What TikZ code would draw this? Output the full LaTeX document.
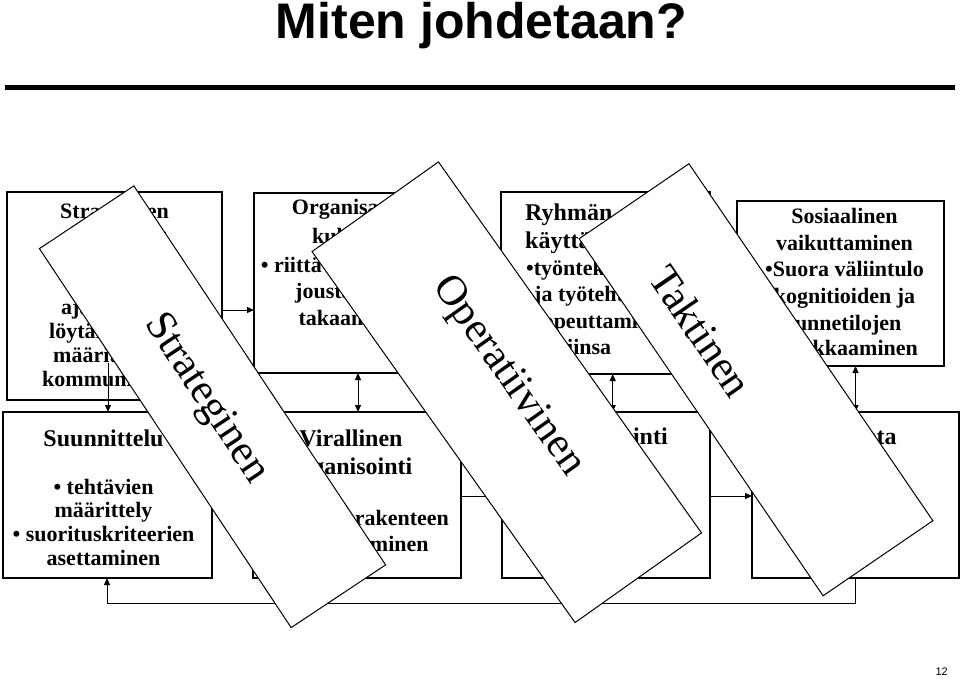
\documentclass[tikz,border=0pt]{standalone}
\usepackage{fontspec}
\setmainfont{Liberation Serif}
\newfontfamily\titlefont{Liberation Sans}
\usetikzlibrary{arrows.meta}
\begin{document}
\begin{tikzpicture}[x=1pt,y=-1pt,
 box/.style={draw, line width=1.1pt, inner sep=0pt, outer sep=0pt, anchor=north west},
 bt/.style={font=\bfseries\fontsize{22}{26}\selectfont, inner sep=0pt},
 btl/.style={font=\bfseries\fontsize{24}{28}\selectfont, inner sep=0pt},
 banner/.style={draw, fill=white, line width=1pt, inner sep=0pt, outer sep=0pt},
 bannertext/.style={font=\fontsize{42.5}{46}\selectfont, inner sep=0pt},
 arr/.style={line width=1pt, -{Triangle[length=7pt,width=6pt]}},
 darr/.style={line width=1pt, {Triangle[length=7pt,width=6pt]}-{Triangle[length=7pt,width=6pt]}}]

\fill[white] (0,0) rectangle (960,678);
\useasboundingbox (0,0) rectangle (960,678);

% title and bar
\node[font=\titlefont\bfseries\fontsize{50}{56}\selectfont, anchor=base, inner sep=0pt] (title) at (481.5,38.5) {Miten johdetaan?};
\draw[line width=4.5pt] (5,87.5) -- (955,87.5);

% boxes
\node[box, minimum width=215pt, minimum height=208pt] (B1) at (7,192) {};
\node[box, minimum width=206pt, minimum height=180pt] (B2) at (254,193) {};
\node[box, minimum width=209pt, minimum height=182pt] (B3) at (501,192) {};
\node[box, minimum width=207pt, minimum height=165pt] (B4) at (737,201) {};
\node[box, minimum width=209pt, minimum height=166pt] (B5) at (3,412) {};
\node[box, minimum width=208pt, minimum height=166pt] (B6) at (253,412) {};
\node[box, minimum width=208pt, minimum height=166pt] (B7) at (502,412) {};
\node[box, minimum width=207pt, minimum height=166pt] (B8) at (752,412) {};

% box 1 text
\node[bt, anchor=mid west] (t1a) at (60,216) {Strateginen};
\node[bt, anchor=mid] (t1b) at (114.5,240) {suunnittelu};
\node[bt, anchor=mid west] (t1c) at (72,288) {• toiminta-};
\node[bt, anchor=mid west] (t1d) at (61,312) {ajatuksen};
\node[bt, anchor=mid west] (t1e) at (49,336) {löytäminen,};
\node[bt, anchor=mid west] (t1f) at (53,360) {määrittely ja};
\node[bt, anchor=mid west] (t1g) at (42,384) {kommunikointi};

% box 2 text
\node[bt, anchor=mid west] (t2a) at (291.7,212) {Organisaation};
\node[bt, anchor=mid west] (t2b) at (312,241.5) {kulttuuri};
\node[bt, anchor=mid west] (t2c) at (260.7,270) {• riittävän vakauden};
\node[bt, anchor=mid west] (t2d) at (295,296.5) {joustavuuden};
\node[bt, anchor=mid west] (t2e) at (298.3,323) {takaaminen};

% box 3 text
\node[btl, anchor=mid west] (t3a) at (525,218) {Ryhmän};
\node[btl, anchor=mid west] (t3b) at (525,246) {käyttäytyminen};
\node[bt, anchor=mid west] (t3c) at (526,273) {•työntekijöiden};
\node[bt, anchor=mid west] (t3d) at (534,299.5) {ja työtehtävien};
\node[bt, anchor=mid west] (t3e) at (534,326) {sopeuttaminen};
\node[bt, anchor=mid west] (t3f) at (534,352) {toisiinsa};

% box 4 text
\node[bt, anchor=mid] (t4a) at (844.5,221.5) {Sosiaalinen};
\node[bt, anchor=mid] (t4b) at (844.5,247.7) {vaikuttaminen};
\node[bt, anchor=mid] (t4c) at (844.5,274) {•Suora väliintulo};
\node[bt, anchor=mid] (t4d) at (844.5,301) {kognitioiden ja};
\node[bt, anchor=mid] (t4e) at (844.5,327.7) {tunnetilojen};
\node[bt, anchor=mid] (t4f) at (844.5,353.3) {muokkaaminen};

% box 5 text
\node[btl, anchor=mid] (t5a) at (103.5,444) {Suunnittelu};
\node[bt, anchor=mid] (t5b) at (103.5,492) {• tehtävien};
\node[bt, anchor=mid] (t5c) at (103.5,515.5) {määrittely};
\node[bt, anchor=mid] (t5d) at (103.5,539) {• suorituskriteerien};
\node[bt, anchor=mid] (t5e) at (103.5,563) {asettaminen};

% box 6 text
\node[btl, anchor=mid] (t6a) at (351,444) {Virallinen};
\node[btl, anchor=mid] (t6b) at (351,472) {organisointi};
\node[bt, anchor=mid] (t6c) at (351,523) {• toimivan rakenteen};
\node[bt, anchor=mid] (t6d) at (351,549) {määritteleminen};

% box 7, 8 text
\node[btl, anchor=mid] (t7a) at (601,442) {Koordinointi};
\node[btl, anchor=mid] (t8a) at (851,442) {Valvonta};

% helper coordinates
\coordinate (ya) at (0,310);
\coordinate (yb) at (0,496);
\coordinate (yf) at (0,603);
\coordinate (xa) at (108,0);
\coordinate (xb) at (358,0);
\coordinate (xc) at (612.7,0);
\coordinate (xd) at (855.5,0);
\coordinate (xe) at (107,0);
\coordinate (a2s) at (108,363);

% connectors
\draw[arr] (B1.east |- ya) -- (B2.west |- ya);
\draw[arr] (a2s) -- (xa |- B5.north);
\draw[darr] (xb |- B2.south) -- (xb |- B6.north);
\draw[darr] (xc |- B3.south) -- (xc |- B7.north);
\draw[darr] (xd |- B4.south) -- (xd |- B8.north);
\draw[arr] (B6.east |- yb) -- (B7.west |- yb);
\draw[arr] (B7.east |- yb) -- (B8.west |- yb);
\draw[arr] (xd |- B8.south) -- (xd |- yf) -- (xe |- yf) -- (xe |- B5.south);

% banners
\node[banner, minimum width=455pt, minimum height=113.4pt, rotate=-56.4] (bS) at (212.5,406.75) {};
\node[bannertext, rotate=-56.4] (tS) at (205.5,399) {Strateginen};
\node[banner, minimum width=454.8pt, minimum height=155pt, rotate=-54.66] (bO) at (506.75,392.25) {};
\node[bannertext, rotate=-54.66] (tO) at (507.5,376.5) {Operatiivinen};
\node[banner, minimum width=432.4pt, minimum height=133pt, rotate=-55.65] (bT) at (756,379.75) {};
\node[bannertext, rotate=-55.65] (tT) at (701,331) {Taktinen};

% page number
\node[font=\titlefont\fontsize{11}{13}\selectfont, inner sep=0pt] (pg) at (941.7,671.5) {12};
\end{tikzpicture}
\end{document}
